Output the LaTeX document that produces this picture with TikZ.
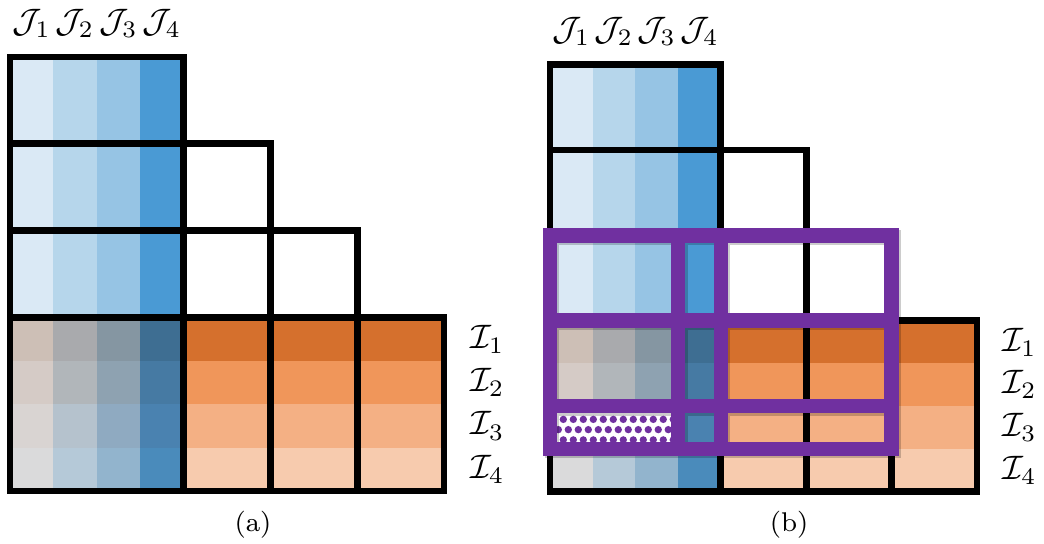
\documentclass[tikz,border=0pt]{standalone}
\usepackage{amsmath}
\usepackage{amssymb}
\usepackage{tikz}
\usepackage[dvipsnames]{xcolor}
\usetikzlibrary{positioning}
% column colours (J) and row colours (I)
\definecolor{JOne}{HTML}{DAE9F5}
\definecolor{JTwo}{HTML}{B6D6EB}
\definecolor{JThree}{HTML}{96C4E4}
\definecolor{JFour}{HTML}{4A9AD4}
\definecolor{IOne}{HTML}{D5702D}
\definecolor{ITwo}{HTML}{F0965A}
\definecolor{IThree}{HTML}{F4B084}
\definecolor{IFour}{HTML}{F7CBAE}
% mixed cells, row letter = I, column letter = J
\definecolor{MixAa}{HTML}{CDBFB6}
\definecolor{MixAb}{HTML}{A9AAAD}
\definecolor{MixAc}{HTML}{8596A2}
\definecolor{MixAd}{HTML}{3E6E92}
\definecolor{MixBa}{HTML}{D5CBC6}
\definecolor{MixBb}{HTML}{B1B6BA}
\definecolor{MixBc}{HTML}{8EA2B1}
\definecolor{MixBd}{HTML}{467AA3}
\definecolor{MixCa}{HTML}{D9D4D2}
\definecolor{MixCb}{HTML}{B5C2CD}
\definecolor{MixCc}{HTML}{8FAAC1}
\definecolor{MixCd}{HTML}{4A82B0}
\definecolor{MixDa}{HTML}{DADADB}
\definecolor{MixDb}{HTML}{B5C9D8}
\definecolor{MixDc}{HTML}{92B4CD}
\definecolor{MixDd}{HTML}{4A8BBB}
\definecolor{MyPurple}{HTML}{7030A0}
\tikzset{
    blockline/.style={line width=2pt, black},
    purplebar/.style={line width=4.3pt, MyPurple},
}
% one staircase, #1 = name and caption
\newcommand{\stairpanel}[1]{%
%   J columns
    \foreach \c [count=\j from 0] in {JOne,JTwo,JThree,JFour}
        \fill[\c] (0.5*\j,2) rectangle ++(0.5,3);
%   I rows
    \foreach \c [count=\i from 1] in {IOne,ITwo,IThree,IFour}
        \fill[\c] (2,2-0.5*\i) rectangle ++(3,0.5);
%   mixed corner
    \foreach \y/\ca/\cb/\cc/\cd in {1.5/MixAa/MixAb/MixAc/MixAd,1/MixBa/MixBb/MixBc/MixBd,0.5/MixCa/MixCb/MixCc/MixCd,0/MixDa/MixDb/MixDc/MixDd} {
        \fill[\ca] (0,\y) rectangle ++(0.5,0.5);
        \fill[\cb] (0.5,\y) rectangle ++(0.5,0.5);
        \fill[\cc] (1,\y) rectangle ++(0.5,0.5);
        \fill[\cd] (1.5,\y) rectangle ++(0.5,0.5);
    }
%   blocks
    \foreach \y in {2,3,4}
        \draw[blockline] (0,\y) rectangle ++(2,1);
    \draw[blockline] (0,0) rectangle (2,2);
    \foreach \x in {2,3,4}
        \draw[blockline] (\x,0) rectangle ++(1,2);
    \draw[blockline] (2,2) rectangle (3,3) (3,2) rectangle (4,3) (2,3) rectangle (3,4);
%   labels
    \foreach \j in {1,...,4}
        \node (#1-J\j) at (0.5*\j-0.25,5.39) {$\mathcal{J}_{\j}$};
    \foreach \i in {1,...,4}
        \node (#1-I\i) at (5.5,2.25-0.5*\i) {$\mathcal{I}_{\i}$};
    \node (#1-cap) at (2.8,-0.39) {\footnotesize(#1)};
}

\begin{document}
\begin{tikzpicture}[x=0.9cm,y=0.9cm]
    \useasboundingbox (-0.115,-0.599) rectangle (11.912,5.657);

    \stairpanel{a}

    \begin{scope}[shift={(6.221,-0.006)},scale=0.984]
        \stairpanel{b}
%       dotted cell
        \fill[white] (0,0.5) rectangle (1.5,1);
        \begin{scope}
            \clip (0,0.5) rectangle (1.5,1);
            \foreach \x in {0,...,13}
                \foreach \y in {0,...,4}
                    \fill[MyPurple] ({0.039+0.117*\x+0.0585*mod(\y+1,2)},{0.485+0.12*\y}) circle (0.043);
        \end{scope}
%       purple grid
        \draw[purplebar, draw=black, opacity=0.2, shift={(0.025,-0.025)}] (0,0.5) rectangle (4,3)
            (0,1) -- (4,1) (0,2) -- (4,2) (1.5,0.5) -- (1.5,3) (2,0.5) -- (2,3);
        \draw[purplebar] (0,0.5) rectangle (4,3)
            (0,1) -- (4,1) (0,2) -- (4,2) (1.5,0.5) -- (1.5,3) (2,0.5) -- (2,3);
    \end{scope}
\end{tikzpicture}
\end{document}
